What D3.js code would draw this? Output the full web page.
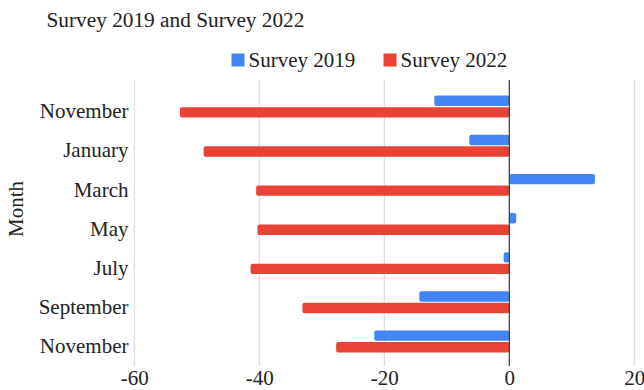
<!DOCTYPE html>
<html>
<head>
<meta charset="utf-8">
<script src="https://cdn.jsdelivr.net/npm/d3@7"></script>
<style>
  html, body { margin: 0; padding: 0; background: #fff; }
  svg { display: block; font-family: "Liberation Serif", "Times New Roman", serif; }
</style>
</head>
<body>
<svg id="chart" width="644" height="390"></svg>
<script>
// Monthly survey differences, two survey rounds
const months = ["November", "January", "March", "May", "July", "September", "November"];
const survey2019 = [-12.0, -6.4, 13.7, 1.1, -0.9, -14.4, -21.6];
const survey2022 = [-52.7, -48.9, -40.5, -40.3, -41.4, -33.1, -27.7];
const seriesNames = ["Survey 2019", "Survey 2022"];
const seriesColors = ["#4285F4", "#EA4335"];
const xTicks = [-60, -40, -20, 0, 20];

const FONT = '"Liberation Serif", "Times New Roman", serif';
const svg = d3.select("#chart");

const x = d3.scaleLinear().domain([-60, 20]).range([134.3, 634.3]);
const keys = months.map((m, i) => i);
const y = d3.scaleBand().domain(keys).range([87, 361]).paddingInner(0.44).paddingOuter(0.22);
const ySub = d3.scaleBand().domain([0, 1]).range([0, y.bandwidth()]).paddingInner(0.1);

const gridTop = 80, gridBottom = 366;

// vertical gridlines
svg.append("g").selectAll("line")
  .data(xTicks.filter(d => d !== 0))
  .join("line")
  .attr("x1", d => x(d)).attr("x2", d => x(d))
  .attr("y1", gridTop).attr("y2", gridBottom)
  .attr("stroke", "#d6d6d6").attr("stroke-width", 1);

// x axis labels (plain hyphen for negatives)
const xAxis = d3.axisBottom(x).tickValues(xTicks).tickSize(0).tickPadding(0).tickFormat(d => String(d));
const gx = svg.append("g").attr("transform", "translate(0,385)").call(xAxis);
gx.attr("font-family", FONT).attr("font-size", 21);
gx.select(".domain").remove();
gx.selectAll("text")
  .attr("fill", "#222")
  .attr("y", 0)
  .attr("dy", null);

// y axis labels
const yAxis = d3.axisLeft(y).tickSize(0).tickPadding(0).tickFormat(i => months[i]);
const gy = svg.append("g").attr("transform", "translate(128.5,0)").call(yAxis);
gy.attr("font-family", FONT).attr("font-size", 21);
gy.select(".domain").remove();
gy.selectAll("text")
  .attr("fill", "#222")
  .attr("dy", "0.32em")
  .attr("transform", "translate(0,5)");

// bars
const rows = keys.map(i => ({ i, values: [survey2019[i], survey2022[i]] }));
const groups = svg.append("g").selectAll("g")
  .data(rows)
  .join("g")
  .attr("transform", d => `translate(0,${y(d.i)})`);

groups.selectAll("rect")
  .data(d => d.values.map((v, s) => ({ v, s })))
  .join("rect")
  .attr("x", d => x(Math.min(0, d.v)))
  .attr("width", d => Math.abs(x(d.v) - x(0)))
  .attr("y", d => ySub(d.s))
  .attr("height", ySub.bandwidth())
  .attr("rx", 2)
  .attr("fill", d => seriesColors[d.s]);

// zero baseline
svg.append("line")
  .attr("x1", x(0)).attr("x2", x(0))
  .attr("y1", gridTop).attr("y2", gridBottom)
  .attr("stroke", "#333").attr("stroke-width", 1.2);

// title
svg.append("text")
  .attr("x", 46.5).attr("y", 26.5)
  .attr("font-size", 21.3)
  .attr("fill", "#222")
  .text("Survey 2019 and Survey 2022");

// legend
const legendX = [231.5, 383.5];
const legend = svg.append("g").selectAll("g")
  .data(seriesNames)
  .join("g")
  .attr("transform", (d, i) => `translate(${legendX[i]},0)`);
legend.append("rect")
  .attr("x", 0).attr("y", 53.5)
  .attr("width", 13).attr("height", 13)
  .attr("fill", (d, i) => seriesColors[i]);
legend.append("text")
  .attr("x", 17).attr("y", 67)
  .attr("font-size", 21)
  .attr("fill", "#222")
  .text(d => d);

// y axis title
svg.append("text")
  .attr("transform", "translate(23,209) rotate(-90)")
  .attr("text-anchor", "middle")
  .attr("font-size", 21)
  .attr("fill", "#222")
  .text("Month");
</script>
</body>
</html>
